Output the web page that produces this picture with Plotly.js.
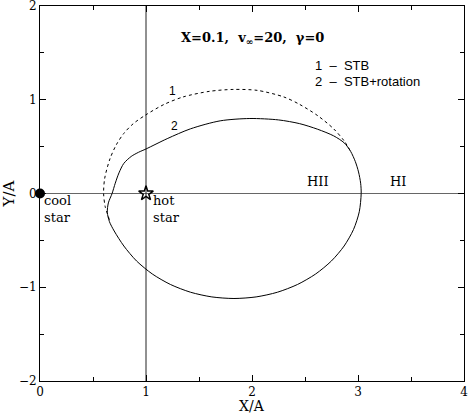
<!DOCTYPE html>
<html>
<head>
<meta charset="utf-8">
<script src="https://cdn.plot.ly/plotly-3.0.1.min.js"></script>
<style>html,body{margin:0;padding:0;background:#fff;}</style>
</head>
<body>
<div id="chart" style="width:468px;height:414px;"></div>
<script>
// Curve 2: STB+rotation (closed, solid)
const curve2X = [0.68,0.71,0.745,0.79,0.86,0.93,1.00,1.20,1.42,1.70,1.98,2.25,2.45,2.62,2.77,2.87,2.93,2.975,3.005,3.025,3.03,3.012,2.958,2.869,2.749,2.601,2.43,2.24,2.039,1.83,1.621,1.42,1.23,1.059,0.911,0.791,0.70,0.655,0.635,0.645,0.68];
const curve2Y = [0.00,0.11,0.22,0.32,0.395,0.44,0.475,0.585,0.69,0.775,0.80,0.785,0.745,0.685,0.615,0.54,0.45,0.34,0.23,0.11,0.00,-0.195,-0.383,-0.56,-0.72,-0.858,-0.97,-1.053,-1.103,-1.12,-1.103,-1.053,-0.97,-0.858,-0.72,-0.56,-0.40,-0.30,-0.20,-0.10,0.00];
// Curve 1: STB (dashed upper branch)
const curve1X = [0.655,0.615,0.60,0.61,0.66,0.72,0.79,0.88,1.00,1.17,1.35,1.60,1.82,2.05,2.30,2.45,2.62,2.77,2.87,2.93];
const curve1Y = [-0.28,-0.14,0.00,0.16,0.37,0.52,0.64,0.745,0.84,0.95,1.03,1.09,1.11,1.10,1.03,0.95,0.83,0.69,0.56,0.45];
// Stars
const coolStarX = [0], coolStarY = [0];
const hotStarX = [1], hotStarY = [0];
// Axis ticks
const xTicks = [0,1,2,3,4];
const yTicks = [-2,-1,0,1,2];

const serif = "DejaVu Serif";
const traces = [
  {x: curve1X, y: curve1Y, mode: 'lines', line: {color: '#000', width: 1, dash: '3px,3px', shape: 'spline', smoothing: 0.8}, hoverinfo: 'skip'},
  {x: curve2X, y: curve2Y, mode: 'lines', line: {color: '#000', width: 1, shape: 'spline', smoothing: 0.8}, hoverinfo: 'skip'},
  {x: coolStarX, y: coolStarY, mode: 'markers', cliponaxis: false, marker: {symbol: 'circle', size: 10, color: '#000'}},
  {x: hotStarX, y: hotStarY, mode: 'markers', cliponaxis: false, marker: {symbol: 'star-open', size: 11, color: '#000', line: {width: 1.5, color: '#000'}}}
];

const axisCommon = {
  showgrid: false, zeroline: false, showline: true, mirror: 'ticks',
  linecolor: '#000', linewidth: 1, ticks: 'inside', ticklen: 6, tickcolor: '#000',
  ticklabeloverflow: 'allow',
  tickfont: {family: serif, size: 12, color: '#000'},
  minor: {ticks: 'inside', ticklen: 4, tickcolor: '#000', dtick: 0.5}
};

const layout = {
  width: 468, height: 414,
  margin: {l: 40, r: 4, t: 6, b: 33},
  paper_bgcolor: '#fff', plot_bgcolor: '#fff',
  showlegend: false,
  xaxis: Object.assign({}, axisCommon, {range: [0, 4], tickvals: xTicks, ticktext: xTicks.map(String)}),
  yaxis: Object.assign({}, axisCommon, {range: [-2, 2], tickvals: yTicks, ticktext: yTicks.map(v => v < 0 ? '\u2212' + Math.abs(v) : String(v)),
    title: {text: 'Y/A', font: {family: serif, size: 15, color: '#000'}, standoff: 10}}),
  shapes: [
    {type: 'line', xref: 'paper', yref: 'y', x0: 0, x1: 1, y0: hotStarY[0], y1: hotStarY[0], line: {color: '#666', width: 1.2}, layer: 'below'},
    {type: 'line', xref: 'x', yref: 'paper', x0: hotStarX[0], x1: hotStarX[0], y0: 0, y1: 1, line: {color: '#222', width: 1}, layer: 'below'}
  ],
  annotations: [
    {x: 0.5, y: 0, xref: 'paper', yref: 'paper', yshift: -25, yanchor: 'middle', borderpad: 0, text: 'X/A', showarrow: false, font: {family: serif, size: 14, color: '#000'}},
    {x: 2.0, y: 1.65, xref: 'x', yref: 'y', text: '<b>X=0.1,  v<sub>\u221e</sub>=20,  \u03b3=0</b>', showarrow: false, font: {family: serif, size: 13, color: '#000'}},
    {x: 2.58, y: 1.37, xref: 'x', yref: 'y', xanchor: 'left', text: '1  \u2013  STB', showarrow: false, font: {family: 'Liberation Sans', size: 13, color: '#000'}},
    {x: 2.58, y: 1.19, xref: 'x', yref: 'y', xanchor: 'left', text: '2  \u2013  STB+rotation', showarrow: false, font: {family: 'Liberation Sans', size: 13, color: '#000'}},
    {x: 1.25, y: 1.09, xref: 'x', yref: 'y', text: '1', showarrow: false, font: {family: 'Liberation Sans', size: 12, color: '#000'}},
    {x: 1.27, y: 0.72, xref: 'x', yref: 'y', text: '2', showarrow: false, font: {family: 'Liberation Sans', size: 12, color: '#000'}},
    {x: 2.62, y: 0.13, xref: 'x', yref: 'y', text: 'HII', showarrow: false, font: {family: serif, size: 13, color: '#000'}},
    {x: 3.38, y: 0.13, xref: 'x', yref: 'y', text: 'HI', showarrow: false, font: {family: serif, size: 13, color: '#000'}},
    {x: 0.02, y: -0.17, xref: 'x', yref: 'y', xanchor: 'left', align: 'left', text: 'cool<br>star', showarrow: false, font: {family: serif, size: 13, color: '#000'}},
    {x: 1.05, y: -0.17, xref: 'x', yref: 'y', xanchor: 'left', align: 'left', text: 'hot<br>star', showarrow: false, font: {family: serif, size: 13, color: '#000'}}
  ]
};

Plotly.newPlot('chart', traces, layout, {displayModeBar: false, staticPlot: true});
</script>
</body>
</html>
